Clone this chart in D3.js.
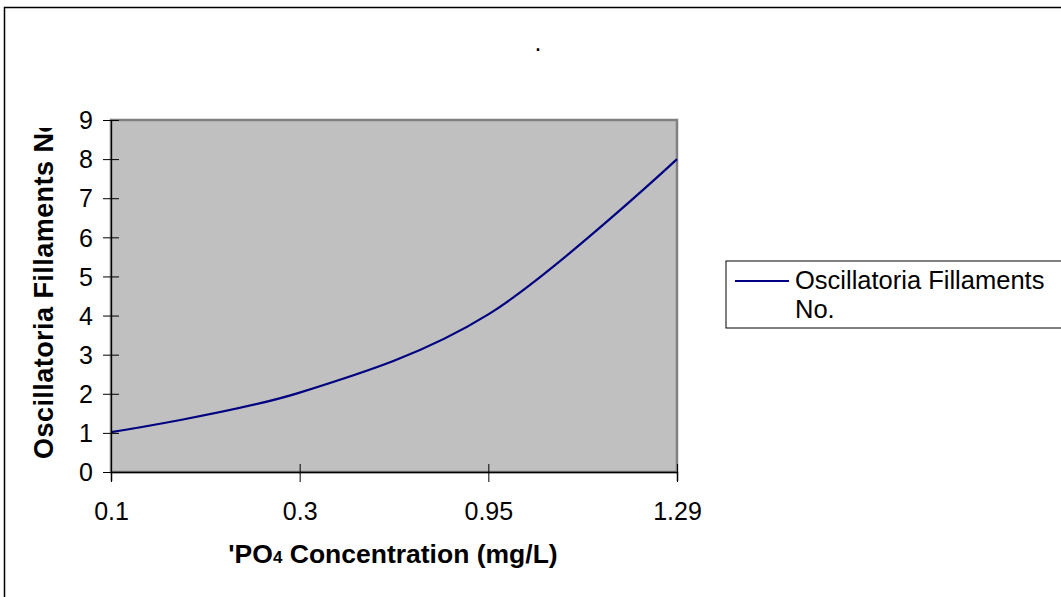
<!DOCTYPE html>
<html>
<head>
<meta charset="utf-8">
<script src="https://cdn.jsdelivr.net/npm/d3@7"></script>
<style>
  body { margin: 0; background: #fff; }
  svg { display: block; font-family: Arial, "Liberation Sans", sans-serif; }
</style>
</head>
<body>
<svg id="chart" width="1061" height="597"></svg>
<script>
const categories = ['0.1', '0.3', '0.95', '1.29'];
const filaments = [1.02, 2.03, 4.03, 8.0];
const yTicks = [0, 1, 2, 3, 4, 5, 6, 7, 8, 9];
const seriesName = ['Oscillatoria Fillaments', 'No.'];

const svg = d3.select('#chart');
const fontFamily = 'Arial, "Liberation Sans", sans-serif';

// outer chart frame (runs past right and bottom edges)
svg.append('rect')
    .attr('x', 4.5).attr('y', 7.5)
    .attr('width', 1100).attr('height', 700)
    .attr('fill', '#fff').attr('stroke', '#000').attr('stroke-width', 1.5);

const plot = { left: 111, top: 120, right: 677, bottom: 472 };

const x = d3.scalePoint()
    .domain(categories)
    .range([plot.left, plot.right]);

const y = d3.scaleLinear()
    .domain([0, 9])
    .range([plot.bottom, plot.top]);

// plot area
svg.append('rect')
    .attr('x', plot.left).attr('y', plot.top)
    .attr('width', plot.right - plot.left).attr('height', plot.bottom - plot.top)
    .attr('fill', '#c0c0c0').attr('stroke', '#808080').attr('stroke-width', 2.5);

// series line, smoothed
const line = d3.line()
    .x((d, i) => x(categories[i]))
    .y(d => y(d))
    .curve(d3.curveCardinal.tension(0));

svg.append('path')
    .datum(filaments)
    .attr('d', line)
    .attr('fill', 'none')
    .attr('stroke', '#000080')
    .attr('stroke-width', 2.2);

// y axis
const yAxis = svg.append('g')
    .attr('transform', `translate(${plot.left},0)`)
    .call(d3.axisLeft(y).tickValues(yTicks).tickSize(8).tickPadding(8));
yAxis.attr('font-family', fontFamily).attr('font-size', 25);
yAxis.select('.domain').attr('stroke', '#000').attr('stroke-width', 1.2);
yAxis.selectAll('.tick line').attr('stroke', '#000').attr('x2', 8).attr('x1', -8);
yAxis.selectAll('.tick text').attr('fill', '#000').attr('x', -18).attr('dy', '0.35em');

// x axis
const xAxis = svg.append('g')
    .attr('transform', `translate(0,${plot.bottom})`)
    .call(d3.axisBottom(x).tickSize(9).tickPadding(14));
xAxis.attr('font-family', fontFamily).attr('font-size', 25);
xAxis.select('.domain').attr('stroke', '#000').attr('stroke-width', 1.5);
xAxis.selectAll('.tick line').attr('stroke', '#000').attr('y1', -8).attr('y2', 10);
xAxis.selectAll('.tick text').attr('fill', '#000').attr('y', 48).attr('dy', 0);

// title (just a dot)
svg.append('text')
    .attr('x', 538).attr('y', 51)
    .attr('text-anchor', 'middle')
    .attr('font-size', 25)
    .text('.');

// x axis title
const xt = svg.append('text')
    .attr('x', 393).attr('y', 563)
    .attr('text-anchor', 'middle')
    .attr('font-size', 26.5).attr('font-weight', 'bold');
xt.append('tspan').text("'PO");
xt.append('tspan').attr('font-size', 17).text('4');
xt.append('tspan').text(' Concentration (mg/L)');

// y axis title, clipped at the top as in the original
svg.append('clipPath').attr('id', 'ytclip')
  .append('rect').attr('x', 0).attr('y', 128).attr('width', 100).attr('height', 400);

svg.append('g')
    .attr('clip-path', 'url(#ytclip)')
  .append('text')
    .attr('transform', 'translate(53,459) rotate(-90)')
    .attr('font-size', 27).attr('font-weight', 'bold')
    .attr('letter-spacing', 0.45)
    .text('Oscillatoria Fillaments No.');

// legend
const legend = svg.append('g');
legend.append('rect')
    .attr('x', 726).attr('y', 261)
    .attr('width', 400).attr('height', 67)
    .attr('fill', '#fff').attr('stroke', '#000').attr('stroke-width', 1);
legend.append('line')
    .attr('x1', 735).attr('x2', 789)
    .attr('y1', 281).attr('y2', 281)
    .attr('stroke', '#000080').attr('stroke-width', 2.2);
legend.selectAll('text.lg')
    .data(seriesName)
    .join('text')
    .attr('class', 'lg')
    .attr('x', 795)
    .attr('y', (d, i) => 289 + i * 29)
    .attr('font-size', 25.5)
    .text(d => d);
</script>
</body>
</html>
